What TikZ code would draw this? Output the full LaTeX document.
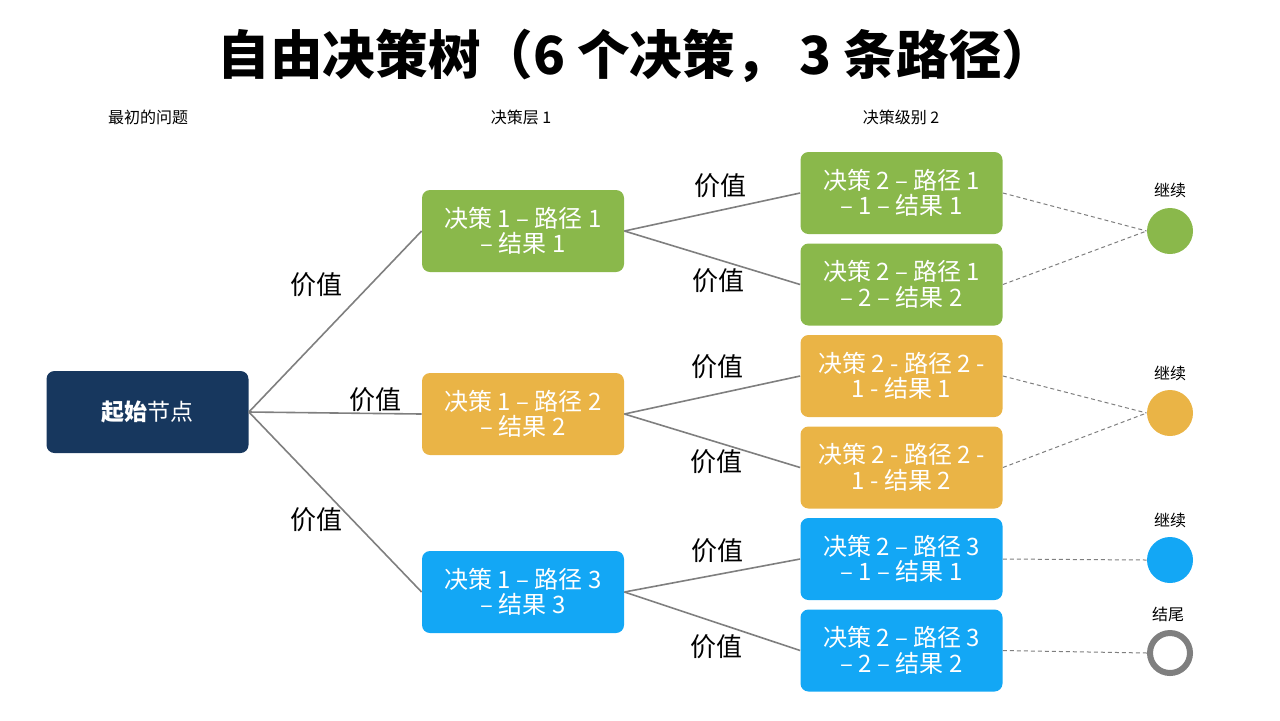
\documentclass[tikz,border=0pt]{standalone}
\usepackage{fontspec}
\setmainfont{Noto Sans CJK SC}
\usepackage{tikz}
\usetikzlibrary{positioning}

\definecolor{navy}{HTML}{17375E}
\definecolor{leaf}{HTML}{8AB84B}
\definecolor{amber}{HTML}{EAB446}
\definecolor{sky}{HTML}{13A7F5}
\definecolor{wire}{HTML}{7F7F7F}

\begin{document}
\begin{tikzpicture}[x=0.5pt,y=-0.5pt,
    box/.style={rounded corners=4pt, minimum width=101pt, minimum height=41pt, inner sep=0pt,
      text=white, align=center, font=\fontsize{12}{12.8}\selectfont},
    val/.style={font=\fontsize{13}{15}\selectfont},
    head/.style={font=\fontsize{8}{10}\selectfont},
    dot/.style={circle, minimum size=23pt, inner sep=0pt},
    link/.style={draw=wire, line width=0.8pt},
    dashlink/.style={draw=wire, line width=0.5pt, dash pattern=on 2pt off 1.5pt}]
    \useasboundingbox (0,0) rectangle (1280,720);

    \node[font=\bfseries\fontsize{26.3}{30}\selectfont] (title) at (636,56) {自由决策树（6 个决策， 3 条路径）};
    \node[head] (h0) at (148,117) {最初的问题};
    \node[head] (h1) at (521,117) {决策层 1};
    \node[head] (h2) at (901,117) {决策级别 2};

    \node[box, fill=navy, font=\fontsize{11.5}{13}\selectfont] (start) at (147.5,412) {\textbf{起始}节点};

    \node[box, fill=leaf] (a) at (523,231) {决策 1 – 路径 1\\– 结果 1};
    \node[box, fill=amber] (b) at (523,414) {决策 1 – 路径 2\\– 结果 2};
    \node[box, fill=sky] (c) at (523,592) {决策 1 – 路径 3\\– 结果 3};

    \node[box, fill=leaf] (a1) at (901.5,193) {决策 2 – 路径 1\\– 1 – 结果 1};
    \node[box, fill=leaf] (a2) at (901.5,284.5) {决策 2 – 路径 1\\– 2 – 结果 2};
    \node[box, fill=amber] (b1) at (901.5,376) {决策 2 - 路径 2 -\\1 - 结果 1};
    \node[box, fill=amber] (b2) at (901.5,467.5) {决策 2 - 路径 2 -\\1 - 结果 2};
    \node[box, fill=sky] (c1) at (901.5,559) {决策 2 – 路径 3\\– 1 – 结果 1};
    \node[box, fill=sky] (c2) at (901.5,650.5) {决策 2 – 路径 3\\– 2 – 结果 2};

    \node[dot, fill=leaf] (ga) at (1170,231) {};
    \node[dot, fill=amber] (gb) at (1170,413) {};
    \node[dot, fill=sky] (gc) at (1170,560) {};
    \node[circle, minimum size=20pt, inner sep=0pt, draw=wire, line width=3pt] (stop) at (1170,653) {};

    \node[head] (ka) at (1170,190) {继续};
    \node[head] (kb) at (1170,373) {继续};
    \node[head] (kc) at (1170,520) {继续};
    \node[head] (ks) at (1168,614) {结尾};

    \draw[link] (start.east) -- (a.west);
    \draw[link] (start.east) -- (b.west);
    \draw[link] (start.east) -- (c.west);
    \draw[link] (a.east) -- (a1.west);
    \draw[link] (a.east) -- (a2.west);
    \draw[link] (b.east) -- (b1.west);
    \draw[link] (b.east) -- (b2.west);
    \draw[link] (c.east) -- (c1.west);
    \draw[link] (c.east) -- (c2.west);

    \draw[dashlink] (a1.east) -- (ga.west);
    \draw[dashlink] (a2.east) -- (ga.west);
    \draw[dashlink] (b1.east) -- (gb.west);
    \draw[dashlink] (b2.east) -- (gb.west);
    \draw[dashlink] (c1.east) -- (gc.west);
    \draw[dashlink] (c2.east) -- (stop.west);

    \node[val] (v1) at (316,285) {价值};
    \node[val] (v2) at (375,400) {价值};
    \node[val] (v3) at (316,520) {价值};
    \node[val] (v4) at (720,186) {价值};
    \node[val] (v5) at (718,281) {价值};
    \node[val] (v6) at (717,367) {价值};
    \node[val] (v7) at (716,462) {价值};
    \node[val] (v8) at (717,551) {价值};
    \node[val] (v9) at (716,647) {价值};
\end{tikzpicture}
\end{document}
